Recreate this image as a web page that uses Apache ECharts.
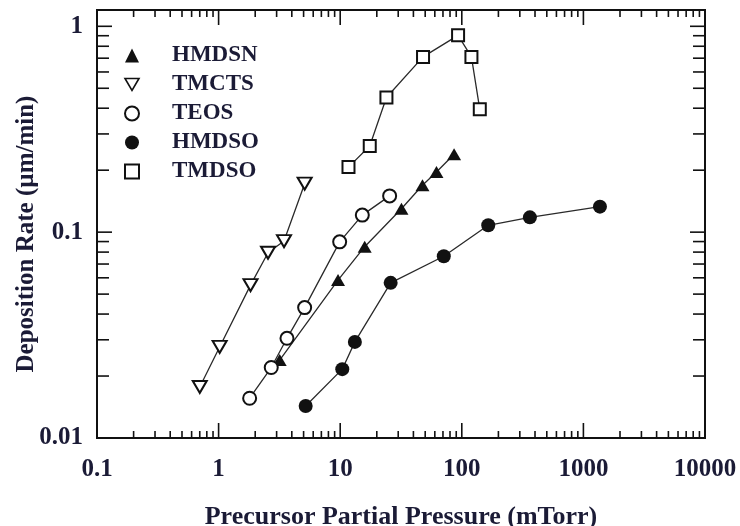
<!DOCTYPE html>
<html lang="en">
<head>
    <meta charset="UTF-8">
    <title>Deposition Rate vs Precursor Partial Pressure</title>
    <script src="https://cdn.jsdelivr.net/npm/echarts@6/dist/echarts.min.js"></script>
</head>
<style>
    html, body {
        margin: 0;
        background-color: #FFFFFF;
    }
</style>
<body>
<div id="main" style="width: 740px;height:526px;"></div>
<script>
    // data (x: mTorr, y: µm/min)
    var seriesNames = ['HMDSN', 'TMCTS', 'TEOS', 'HMDSO', 'TMDSO'];

    var hmdsnX = [3.18, 9.6, 15.9, 31.9, 47.5, 61.9, 86.4];
    var hmdsnY = [0.0239, 0.0585, 0.085, 0.130, 0.169, 0.196, 0.239];

    var tmctsX = [0.70, 1.02, 1.83, 2.55, 3.45, 5.1];
    var tmctsY = [0.0177, 0.0277, 0.0553, 0.0794, 0.0905, 0.172];

    var teosX = [1.80, 2.71, 3.65, 5.1, 9.9, 15.2, 25.5];
    var teosY = [0.0156, 0.0220, 0.0305, 0.043, 0.0897, 0.121, 0.150];

    var hmdsoX = [5.2, 10.4, 13.2, 26.0, 71.1, 165, 363, 1368];
    var hmdsoY = [0.0143, 0.0216, 0.0293, 0.0567, 0.0764, 0.108, 0.118, 0.133];

    var tmdsoX = [11.7, 17.5, 24.0, 48.0, 93.2, 120, 140.6];
    var tmdsoY = [0.207, 0.262, 0.451, 0.71, 0.904, 0.71, 0.395];

    var xTickLabels = ['0.1', '1', '10', '100', '1000', '10000'];
    var yTickLabels = ['0.01', '0.1', '1'];

    var ink = '#111111';
    var textInk = '#1b1b36';
    var fontFam = '"Liberation Serif", "DejaVu Serif", serif';
    var downTriangle = 'path://M0,0L14,0L7,12Z';

    function pairs(xs, ys) {
        var out = [];
        for (var i = 0; i < xs.length; i++) {
            out.push([xs[i], ys[i]]);
        }
        return out;
    }

    function decadeLabel(list) {
        return function (v) {
            var e = Math.log10(v);
            if (Math.abs(e - Math.round(e)) > 1e-6) return '';
            for (var i = 0; i < list.length; i++) {
                if (Math.abs(parseFloat(list[i]) - v) < 1e-9 * Math.max(1, v)) return list[i];
            }
            return '';
        };
    }

    function makeSeries(name, xs, ys, symbol, size, rotate, filled) {
        return {
            name: name,
            type: 'line',
            data: pairs(xs, ys),
            symbol: symbol,
            symbolSize: size,
            symbolRotate: rotate,
            showAllSymbol: true,
            lineStyle: {color: '#2a2a2a', width: 1.3},
            itemStyle: {
                color: ink,
                borderColor: ink,
                borderWidth: filled ? 0 : 1.6
            },
            z: 3
        };
    }

    var myChart = echarts.init(document.getElementById('main'));

    var option = {
        animation: false,
        backgroundColor: '#FFFFFF',
        grid: {
            left: 97,
            right: 35,
            top: 10,
            bottom: 88,
            outerBoundsMode: 'none',
            show: true,
            borderColor: ink,
            borderWidth: 2
        },
        legend: {
            orient: 'vertical',
            left: 119,
            top: 36,
            itemWidth: 14,
            itemHeight: 14,
            itemGap: 0,
            selectedMode: false,
            textStyle: {
                fontFamily: fontFam,
                fontWeight: 'bold',
                fontSize: 23,
                color: textInk,
                lineHeight: 29,
                padding: [0, 0, 0, 28]
            },
            data: [
                {name: 'HMDSN', icon: 'triangle'},
                {name: 'TMCTS', icon: downTriangle, itemStyle: {color: '#fff', borderColor: ink, borderWidth: 1.6}},
                {name: 'TEOS', icon: 'emptyCircle'},
                {name: 'HMDSO', icon: 'circle'},
                {name: 'TMDSO', icon: 'emptyRect'}
            ]
        },
        xAxis: {
            type: 'log',
            logBase: 10,
            min: 0.1,
            max: 10000,
            name: 'Precursor Partial Pressure (mTorr)',
            nameLocation: 'middle',
            nameGap: 66,
            nameMoveOverlap: false,
            nameTextStyle: {fontFamily: fontFam, fontWeight: 'bold', fontSize: 26, color: textInk},
            axisLine: {show: false},
            axisTick: {show: false},
            splitLine: {show: false},
            axisLabel: {
                margin: 19,
                fontFamily: fontFam,
                fontWeight: 'bold',
                fontSize: 25,
                color: textInk,
                formatter: decadeLabel(xTickLabels)
            }
        },
        yAxis: {
            type: 'log',
            logBase: 10,
            min: 0.01,
            max: 1.2,
            name: 'Deposition Rate (µm/min)',
            nameLocation: 'middle',
            nameGap: 58,
            nameMoveOverlap: false,
            nameTextStyle: {
                fontFamily: fontFam,
                fontWeight: 'bold',
                fontSize: 25,
                color: textInk,
                padding: [0, 20, 0, 0]
            },
            axisLine: {show: false},
            axisTick: {show: false},
            splitLine: {show: false},
            axisLabel: {
                margin: 14,
                showMaxLabel: false,
                fontFamily: fontFam,
                fontWeight: 'bold',
                fontSize: 25,
                color: textInk,
                formatter: decadeLabel(yTickLabels)
            }
        },
        series: [
            makeSeries('HMDSN', hmdsnX, hmdsnY, 'triangle', [14, 12], 0, true),
            makeSeries('TMCTS', tmctsX, tmctsY, 'emptyTriangle', [14, 12], 180, false),
            makeSeries('TEOS', teosX, teosY, 'emptyCircle', 13, 0, false),
            makeSeries('HMDSO', hmdsoX, hmdsoY, 'circle', 14, 0, true),
            makeSeries('TMDSO', tmdsoX, tmdsoY, 'emptyRect', 12, 0, false)
        ]
    };

    myChart.setOption(option);

    // inward log ticks on all four sides, placed through the axis scales
    function buildTicks(chart) {
        var xL = chart.convertToPixel({xAxisIndex: 0}, 0.1);
        var xR = chart.convertToPixel({xAxisIndex: 0}, 10000);
        var yB = chart.convertToPixel({yAxisIndex: 0}, 0.01);
        var yT = chart.convertToPixel({yAxisIndex: 0}, 1.2);
        var out = [];
        function tickLine(x1, y1, x2, y2) {
            out.push({
                type: 'line',
                silent: true,
                z: 10,
                shape: {x1: x1, y1: y1, x2: x2, y2: y2},
                style: {stroke: ink, lineWidth: 1.6}
            });
        }
        for (var d = -1; d <= 4; d++) {
            for (var m = 1; m <= 9; m++) {
                var v = m * Math.pow(10, d);
                if (v > 10000 * 1.0001) break;
                var px = chart.convertToPixel({xAxisIndex: 0}, v);
                var len = m === 1 ? 15 : 7;
                tickLine(px, yB, px, yB - len);
                tickLine(px, yT, px, yT + len);
            }
        }
        for (var e = -2; e <= 0; e++) {
            for (var k = 1; k <= 9; k++) {
                var val = k * Math.pow(10, e);
                if (val > 1.0001) break;
                var py = chart.convertToPixel({yAxisIndex: 0}, val);
                var ylen = k === 1 ? 15 : 12;
                tickLine(xL, py, xL + ylen, py);
                tickLine(xR, py, xR - ylen, py);
            }
        }
        return out;
    }

    myChart.setOption({graphic: buildTicks(myChart)});
</script>
</body>
</html>
